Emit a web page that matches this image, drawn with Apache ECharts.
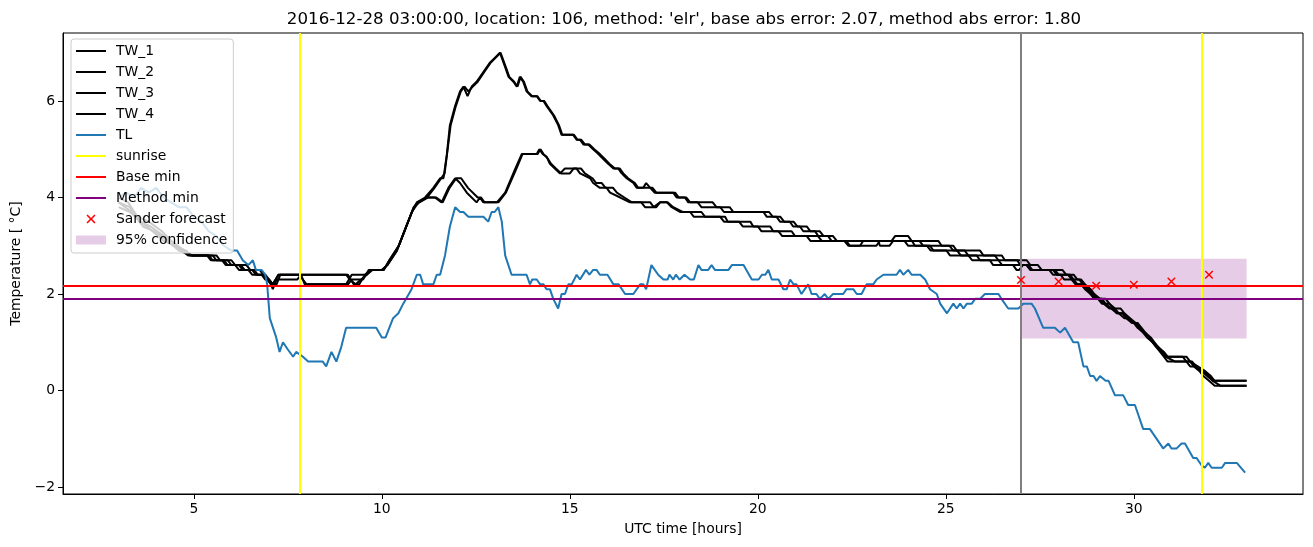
<!DOCTYPE html>
<html><head><meta charset="utf-8">
<script src="https://cdn.jsdelivr.net/npm/echarts@6/dist/echarts.min.js"></script>
<style>html,body{margin:0;padding:0;background:#fff}#c{width:1313px;height:547px}</style>
</head><body><div id="c"></div>
<script>
const titleText = "2016-12-28 03:00:00, location: 106, method: 'elr', base abs error: 2.07, method abs error: 1.80";
const xTicks = [5, 10, 15, 20, 25, 30];
const yTicks = [-2, 0, 2, 4, 6];

const tw1 = [[3.0,3.9],[3.3,3.8],[3.55,3.5],[3.85,3.4],[4.2,3.2],[4.45,3.0],[4.8,2.9],[4.9,2.8],[5.4,2.8],[5.5,2.7],[5.75,2.7],[5.85,2.6],[6.1,2.6],[6.2,2.5],[6.45,2.5],[6.55,2.4],[6.8,2.4],[6.9,2.3],[7.0,2.3],[7.1,2.2],[7.25,2.4],[9.1,2.4],[9.25,2.2],[9.4,2.2],[9.55,2.4],[9.7,2.5],[10.0,2.5],[10.15,2.6],[10.4,2.9],[10.6,3.3],[10.8,3.7],[10.93,3.9],[11.15,4.0],[11.37,4.2],[11.55,4.4],[11.64,4.4],[11.73,4.9],[11.81,5.5],[11.95,5.9],[12.08,6.2],[12.17,6.3],[12.28,6.1],[12.39,6.3],[12.52,6.4],[12.7,6.6],[12.88,6.8],[13.01,6.9],[13.14,7.0],[13.19,7.0],[13.28,6.7],[13.37,6.5],[13.5,6.4],[13.59,6.3],[13.67,6.5],[13.76,6.4],[13.85,6.2],[13.98,6.1],[14.12,6.1],[14.21,6.0],[14.3,6.0],[14.38,5.9],[14.56,5.7],[14.69,5.5],[14.78,5.3],[15.09,5.3],[15.18,5.2],[15.27,5.2],[15.36,5.1],[15.49,5.1],[15.62,5.0],[15.76,4.9],[15.89,4.8],[16.02,4.7],[16.16,4.6],[16.29,4.6],[16.38,4.5],[16.51,4.4],[16.69,4.3],[16.78,4.2],[16.95,4.2],[17.03,4.3],[17.14,4.2],[17.26,4.1],[17.75,4.1],[17.84,4.0],[18.06,4.0],[18.15,3.9],[18.4,3.9],[18.5,3.8],[19.0,3.8],[19.1,3.7],[20.15,3.7],[20.24,3.6],[20.5,3.6],[20.59,3.5],[20.85,3.5],[20.94,3.4],[21.12,3.4],[21.21,3.3],[21.52,3.3],[21.61,3.2],[21.87,3.2],[21.96,3.1],[23.56,3.1],[23.65,3.2],[24.0,3.2],[24.09,3.1],[24.8,3.1],[24.89,3.0],[25.2,3.0],[25.29,2.9],[25.91,2.9],[26.0,2.8],[26.49,2.8],[26.57,2.7],[27.15,2.7],[27.25,2.6],[27.45,2.6],[27.55,2.5],[28.1,2.5],[28.2,2.4],[28.4,2.4],[28.5,2.3],[28.6,2.3],[28.7,2.2],[28.85,2.1],[28.95,2.0],[29.1,1.9],[29.25,1.9],[29.35,1.8],[29.5,1.7],[29.65,1.7],[29.75,1.6],[29.9,1.5],[30.05,1.4],[30.2,1.3],[30.3,1.2],[30.45,1.1],[30.55,1.0],[30.65,0.9],[30.8,0.8],[30.9,0.7],[31.4,0.7],[31.5,0.6],[31.7,0.5],[31.9,0.4],[32.05,0.3],[32.15,0.2],[33.0,0.2]];

const tw2 = [[3.0,4.0],[3.25,3.9],[3.5,3.6],[3.8,3.5],[4.15,3.3],[4.4,3.1],[4.75,2.9],[4.95,2.8],[5.5,2.8],[5.6,2.7],[5.9,2.7],[6.0,2.6],[6.25,2.6],[6.35,2.5],[6.6,2.5],[6.7,2.4],[6.85,2.4],[6.95,2.3],[7.05,2.2],[7.1,2.1],[7.2,2.3],[7.75,2.3],[7.85,2.4],[7.95,2.2],[9.1,2.2],[9.2,2.3],[9.5,2.3],[9.65,2.5],[10.05,2.5],[10.2,2.7],[10.45,3.0],[10.65,3.4],[10.85,3.8],[10.95,3.9],[11.2,4.0],[11.4,4.2],[11.58,4.4],[11.67,4.5],[11.75,5.0],[11.83,5.5],[11.97,5.9],[12.1,6.2],[12.2,6.3],[12.3,6.2],[12.42,6.3],[12.55,6.4],[12.72,6.6],[12.9,6.8],[13.03,6.9],[13.16,7.0],[13.21,7.0],[13.3,6.7],[13.39,6.5],[13.52,6.4],[13.61,6.3],[13.69,6.5],[13.78,6.4],[13.87,6.2],[14.0,6.1],[14.14,6.1],[14.23,6.0],[14.32,6.0],[14.4,5.9],[14.58,5.7],[14.71,5.5],[14.8,5.3],[15.11,5.3],[15.2,5.2],[15.3,5.2],[15.4,5.1],[15.52,5.1],[15.65,5.0],[15.8,4.9],[15.93,4.8],[16.05,4.7],[16.2,4.6],[16.33,4.6],[16.42,4.5],[16.55,4.4],[16.73,4.3],[16.82,4.2],[17.2,4.2],[17.3,4.1],[17.8,4.1],[17.9,4.0],[18.1,4.0],[18.2,3.9],[18.8,3.9],[18.9,3.8],[19.25,3.8],[19.35,3.7],[20.3,3.7],[20.4,3.6],[20.6,3.6],[20.7,3.5],[20.95,3.5],[21.05,3.4],[21.3,3.4],[21.4,3.3],[21.65,3.3],[21.75,3.2],[22.0,3.2],[22.1,3.1],[23.2,3.1],[23.25,3.0],[23.5,3.0],[23.6,3.1],[24.3,3.1],[24.4,3.0],[25.1,3.0],[25.2,2.9],[25.5,2.9],[25.6,2.8],[26.3,2.8],[26.4,2.7],[26.9,2.7],[26.98,2.6],[27.2,2.6],[27.3,2.5],[27.85,2.5],[27.95,2.4],[28.25,2.4],[28.35,2.3],[28.55,2.3],[28.65,2.2],[28.8,2.1],[28.9,2.0],[29.05,1.9],[29.15,1.8],[29.35,1.8],[29.45,1.7],[29.55,1.6],[29.7,1.6],[29.85,1.5],[30.0,1.4],[30.15,1.3],[30.25,1.2],[30.4,1.1],[30.5,1.0],[30.6,0.9],[30.75,0.8],[30.85,0.7],[31.1,0.6],[31.5,0.6],[31.6,0.5],[31.8,0.4],[31.95,0.3],[32.1,0.2],[32.3,0.1],[33.0,0.1]];

const tw3 = [[3.0,3.8],[3.3,3.7],[3.6,3.5],[3.9,3.3],[4.2,3.1],[4.5,3.0],[4.85,2.8],[5.6,2.8],[5.7,2.7],[6.0,2.7],[6.1,2.6],[6.4,2.6],[6.5,2.5],[6.75,2.5],[6.85,2.4],[7.0,2.3],[7.1,2.2],[7.25,2.4],[7.8,2.4],[7.9,2.3],[8.0,2.2],[9.05,2.2],[9.2,2.4],[9.6,2.4],[9.7,2.5],[10.0,2.5],[10.15,2.6],[10.4,2.9],[10.6,3.3],[10.8,3.7],[10.97,3.9],[11.19,4.0],[11.41,4.0],[11.59,3.9],[11.77,4.2],[11.95,4.4],[12.08,4.3],[12.26,4.1],[12.52,3.9],[12.61,4.0],[12.7,3.9],[13.06,3.9],[13.28,4.1],[13.55,4.6],[13.72,4.9],[14.12,4.9],[14.19,5.0],[14.28,4.9],[14.38,4.85],[14.47,4.7],[14.6,4.6],[14.74,4.5],[14.87,4.6],[15.18,4.6],[15.27,4.5],[15.54,4.4],[15.62,4.3],[15.8,4.2],[15.98,4.2],[16.07,4.1],[16.34,4.0],[16.6,3.9],[17.14,3.9],[17.23,3.8],[17.4,3.9],[17.58,3.9],[17.71,3.8],[17.93,3.7],[18.2,3.7],[18.3,3.6],[19.13,3.6],[19.2,3.5],[19.8,3.5],[19.88,3.4],[20.33,3.4],[20.41,3.3],[20.9,3.3],[20.99,3.2],[21.6,3.2],[21.7,3.1],[22.3,3.1],[22.41,3.0],[22.72,3.0],[22.8,3.1],[24.1,3.1],[24.18,3.0],[24.58,3.0],[24.67,2.9],[25.02,2.9],[25.11,2.8],[25.82,2.8],[25.91,2.7],[26.17,2.7],[26.26,2.6],[26.79,2.6],[26.88,2.5],[26.95,2.5],[27.05,2.6],[27.15,2.6],[27.25,2.5],[27.9,2.5],[28.0,2.4],[28.3,2.4],[28.4,2.3],[28.5,2.2],[28.6,2.2],[28.75,2.1],[28.85,2.0],[29.0,1.9],[29.1,1.9],[29.2,1.8],[29.35,1.7],[29.5,1.7],[29.6,1.6],[29.75,1.5],[29.85,1.5],[30.0,1.4],[30.1,1.3],[30.25,1.2],[30.35,1.1],[30.5,1.0],[30.6,0.9],[30.7,0.8],[30.8,0.7],[30.9,0.6],[31.4,0.6],[31.5,0.5],[31.6,0.5],[31.75,0.4],[31.85,0.3],[32.0,0.2],[32.15,0.1],[33.0,0.1]];

const tw4 = [[3.0,3.9],[3.35,3.7],[3.65,3.4],[3.95,3.3],[4.3,3.1],[4.6,2.9],[4.95,2.8],[5.35,2.8],[5.45,2.7],[5.8,2.7],[5.9,2.6],[6.2,2.6],[6.3,2.5],[6.55,2.5],[6.65,2.4],[6.9,2.4],[7.0,2.3],[7.1,2.2],[7.2,2.2],[7.3,2.4],[9.05,2.4],[9.15,2.3],[9.3,2.2],[9.45,2.3],[9.6,2.4],[9.75,2.5],[10.05,2.5],[10.2,2.7],[10.45,3.0],[10.65,3.4],[10.85,3.8],[11.0,3.9],[11.22,4.0],[11.45,4.0],[11.62,3.9],[11.8,4.2],[11.98,4.4],[12.11,4.4],[12.29,4.2],[12.55,4.0],[12.64,4.0],[12.73,3.9],[13.1,3.9],[13.3,4.1],[13.58,4.6],[13.74,4.9],[14.14,4.9],[14.22,5.0],[14.3,4.9],[14.42,4.8],[14.5,4.7],[14.63,4.6],[14.77,4.5],[15.0,4.5],[15.1,4.6],[15.3,4.6],[15.4,4.5],[15.6,4.4],[15.7,4.3],[15.85,4.3],[15.95,4.2],[16.15,4.2],[16.25,4.1],[16.45,4.0],[16.65,3.9],[16.9,3.9],[17.0,3.8],[17.3,3.8],[17.4,3.9],[17.6,3.9],[17.75,3.8],[18.0,3.7],[18.5,3.7],[18.6,3.6],[19.0,3.6],[19.1,3.5],[19.5,3.5],[19.6,3.4],[20.0,3.4],[20.1,3.3],[20.55,3.3],[20.65,3.2],[21.3,3.2],[21.4,3.1],[22.35,3.1],[22.45,3.0],[23.15,3.0],[23.25,3.1],[23.9,3.1],[24.0,3.0],[24.5,3.0],[24.6,2.9],[25.3,2.9],[25.4,2.8],[25.6,2.8],[25.7,2.7],[26.4,2.7],[26.5,2.6],[27.15,2.6],[27.25,2.5],[27.75,2.5],[27.85,2.4],[28.05,2.4],[28.15,2.3],[28.35,2.3],[28.45,2.2],[28.6,2.2],[28.7,2.1],[28.85,2.0],[28.95,1.9],[29.15,1.9],[29.25,1.8],[29.4,1.7],[29.55,1.6],[29.7,1.6],[29.8,1.5],[29.95,1.4],[30.1,1.4],[30.2,1.3],[30.3,1.2],[30.4,1.1],[30.5,1.0],[30.65,0.9],[30.75,0.8],[30.85,0.7],[31.3,0.7],[31.4,0.6],[31.55,0.6],[31.65,0.5],[31.85,0.4],[32.0,0.3],[32.1,0.2],[33.0,0.2]];

const tl = [[3.0,4.0],[3.2,4.1],[3.4,4.0],[3.6,4.2],[3.8,4.1],[4.0,4.2],[4.2,4.0],[4.4,3.9],[4.6,3.8],[4.8,3.8],[5.0,3.6],[5.2,3.5],[5.4,3.3],[5.6,3.2],[5.8,3.0],[6.0,2.9],[6.15,2.9],[6.3,2.7],[6.45,2.6],[6.57,2.7],[6.65,2.5],[6.8,2.5],[6.9,2.4],[6.95,2.2],[7.02,1.5],[7.19,1.1],[7.28,0.8],[7.37,1.0],[7.5,0.85],[7.64,0.7],[7.72,0.8],[7.9,0.7],[8.04,0.6],[8.43,0.6],[8.52,0.5],[8.66,0.8],[8.79,0.6],[8.92,0.9],[9.05,1.3],[9.85,1.3],[10.0,1.1],[10.1,1.1],[10.25,1.4],[10.3,1.5],[10.44,1.6],[10.57,1.8],[10.79,2.1],[10.93,2.4],[11.02,2.4],[11.1,2.2],[11.37,2.2],[11.46,2.4],[11.55,2.4],[11.68,2.8],[11.81,3.4],[11.95,3.8],[12.08,3.7],[12.17,3.7],[12.3,3.6],[12.7,3.6],[12.83,3.5],[12.92,3.7],[13.0,3.7],[13.1,3.8],[13.19,3.5],[13.28,2.8],[13.45,2.4],[13.85,2.4],[13.94,2.2],[14.0,2.3],[14.12,2.3],[14.21,2.2],[14.3,2.2],[14.38,2.1],[14.47,2.1],[14.56,1.9],[14.69,1.7],[14.78,2.0],[14.87,2.0],[14.96,2.2],[15.05,2.2],[15.18,2.4],[15.27,2.3],[15.43,2.5],[15.52,2.4],[15.62,2.5],[15.71,2.5],[15.8,2.4],[16.0,2.4],[16.16,2.2],[16.3,2.2],[16.47,2.0],[16.69,2.0],[16.87,2.2],[16.96,2.2],[17.03,2.1],[17.17,2.6],[17.35,2.4],[17.49,2.3],[17.6,2.3],[17.65,2.4],[17.75,2.3],[17.82,2.4],[17.92,2.3],[18.05,2.4],[18.2,2.3],[18.3,2.3],[18.42,2.6],[18.5,2.5],[18.68,2.5],[18.77,2.6],[18.86,2.5],[19.22,2.5],[19.31,2.6],[19.62,2.6],[19.84,2.3],[20.02,2.3],[20.11,2.4],[20.2,2.4],[20.28,2.5],[20.37,2.3],[20.55,2.3],[20.68,2.1],[20.77,2.1],[20.86,2.3],[20.95,2.2],[21.03,2.2],[21.16,2.0],[21.25,2.1],[21.34,2.2],[21.43,2.0],[21.56,2.0],[21.65,1.9],[21.78,2.0],[21.87,1.9],[22.0,2.0],[22.27,2.0],[22.36,2.1],[22.54,2.1],[22.63,2.0],[22.76,2.0],[22.89,2.2],[23.07,2.2],[23.16,2.3],[23.34,2.4],[23.69,2.4],[23.78,2.5],[23.87,2.4],[24.0,2.5],[24.09,2.4],[24.32,2.4],[24.45,2.3],[24.58,2.1],[24.76,2.0],[24.85,1.8],[25.03,1.6],[25.2,1.8],[25.29,1.7],[25.38,1.8],[25.47,1.7],[25.56,1.8],[25.69,1.8],[25.78,1.9],[25.91,1.9],[26.04,2.0],[26.4,2.0],[26.48,1.9],[26.66,1.7],[26.93,1.7],[27.06,1.8],[27.28,1.8],[27.37,1.7],[27.59,1.3],[27.9,1.3],[28.04,1.2],[28.17,1.3],[28.39,1.0],[28.52,1.0],[28.66,0.5],[28.75,0.5],[28.84,0.3],[28.93,0.3],[29.01,0.2],[29.1,0.3],[29.25,0.2],[29.33,0.2],[29.5,-0.1],[29.72,-0.1],[29.85,-0.3],[30.03,-0.3],[30.25,-0.8],[30.43,-0.8],[30.78,-1.2],[30.92,-1.1],[31.0,-1.2],[31.14,-1.2],[31.27,-1.1],[31.36,-1.1],[31.58,-1.4],[31.67,-1.4],[31.8,-1.55],[31.89,-1.6],[31.98,-1.5],[32.07,-1.6],[32.34,-1.6],[32.43,-1.5],[32.74,-1.5],[32.96,-1.7]];

const sunriseHours = [7.81, 31.81];
const baseMin = 2.17;
const methodMin = 1.90;
const forecastHour = 27;
const sanderHours = [27, 28, 29, 30, 31, 32];
const sanderValues = [2.29, 2.26, 2.17, 2.19, 2.26, 2.40];
const confHours = [27, 33];
const confRange = [1.08, 2.73];

const FONT = 'DejaVu Sans';
const xPath = 'path://M0,1.2L1.2,0L5,3.8L8.8,0L10,1.2L6.2,5L10,8.8L8.8,10L5,6.2L1.2,10L0,8.8L3.8,5Z';
const confColor = 'rgba(128,0,128,0.2)';

function lineSeries(name, data, color) {
  return { name, type: 'line', data, symbol: 'none', showSymbol: false, color,
    lineStyle: { color, width: 2 }, z: 3, animation: false };
}
function markOnly(name, color, markData, z) {
  return { name, type: 'line', data: [], symbol: 'none', color,
    lineStyle: { color, width: 2 }, z: z || 4,
    markLine: { silent: true, symbol: 'none', label: { show: false },
      lineStyle: { color, width: 2, type: 'solid' }, data: markData } };
}

const chart = echarts.init(document.getElementById('c'));
chart.setOption({
  animation: false,
  backgroundColor: '#fff',
  title: { text: titleText, left: 679, top: 6, textAlign: 'center',
    textStyle: { fontFamily: FONT, fontSize: 16.67, fontWeight: 'normal', color: '#000' } },
  grid: { left: 63, right: 10, top: 33, bottom: 53, show: true, borderColor: '#000', borderWidth: 1, backgroundColor: 'transparent' },
  legend: {
    left: 71, top: 39, orient: 'vertical', selectedMode: false,
    itemWidth: 30, itemHeight: 9, itemGap: 7,
    backgroundColor: 'rgba(255,255,255,0.8)', borderColor: '#cccccc', borderWidth: 1, borderRadius: 3,
    padding: [5, 6, 6, 4],
    itemStyle: { opacity: 0 },
    textStyle: { fontFamily: FONT, fontSize: 13.9, color: '#000', lineHeight: 14, padding: [0, 0, 0, 5] },
    data: ['TW_1', 'TW_2', 'TW_3', 'TW_4', 'TL', 'sunrise', 'Base min', 'Method min',
      { name: 'Sander forecast', icon: xPath, itemStyle: { opacity: 1, color: '#ff0000' } },
      { name: '95% confidence', icon: 'rect', itemStyle: { opacity: 1, color: confColor } }]
  },
  xAxis: { type: 'value', min: 1.52, max: 34.5,
    name: 'UTC time [hours]', nameLocation: 'middle', nameGap: 28,
    nameTextStyle: { fontFamily: FONT, fontSize: 13.9, color: '#000' },
    axisLine: { show: true, onZero: false, lineStyle: { color: '#000', width: 1 } },
    axisTick: { show: true, length: 5, customValues: xTicks, lineStyle: { color: '#000', width: 1 } },
    axisLabel: { customValues: xTicks, margin: 8, fontFamily: FONT, fontSize: 13.9, color: '#000' },
    splitLine: { show: false } },
  yAxis: { type: 'value', min: -2.145, max: 7.41,
    name: 'Temperature [ °C]', nameLocation: 'middle', nameGap: 36, nameRotate: 90,
    nameTextStyle: { fontFamily: FONT, fontSize: 13.9, color: '#000' },
    axisLine: { show: true, onZero: false, lineStyle: { color: '#000', width: 1 } },
    axisTick: { show: true, length: 5, customValues: yTicks, lineStyle: { color: '#000', width: 1 } },
    axisLabel: { customValues: yTicks, margin: 8, fontFamily: FONT, fontSize: 13.9, color: '#000',
      formatter: v => (v < 0 ? '\u2212' + Math.abs(v) : String(v)) },
    splitLine: { show: false } },
  series: [
    lineSeries('TW_1', tw1, '#000000'),
    lineSeries('TW_2', tw2, '#000000'),
    lineSeries('TW_3', tw3, '#000000'),
    lineSeries('TW_4', tw4, '#000000'),
    lineSeries('TL', tl, '#1f77b4'),
    markOnly('sunrise', '#ffff00', sunriseHours.map(h => ({ xAxis: h }))),
    markOnly('Base min', '#ff0000', [{ yAxis: baseMin }]),
    markOnly('Method min', '#800080', [{ yAxis: methodMin }]),
    { name: 'Sander forecast', type: 'scatter', symbol: xPath, symbolSize: 8.5, symbolKeepAspect: true,
      itemStyle: { color: '#ff0000', opacity: 1 }, color: '#ff0000', z: 6,
      data: sanderHours.map((h, i) => [h, sanderValues[i]]) },
    { name: '95% confidence', type: 'line', data: [], symbol: 'none', color: confColor,
      itemStyle: { color: confColor }, z: 1,
      markArea: { silent: true, itemStyle: { color: confColor },
        data: [[{ xAxis: confHours[0], yAxis: confRange[0] }, { xAxis: confHours[1], yAxis: confRange[1] }]] } },
    markOnly('forecast time', '#808080', [{ xAxis: forecastHour }], 5)
  ]
});
</script></body></html>
